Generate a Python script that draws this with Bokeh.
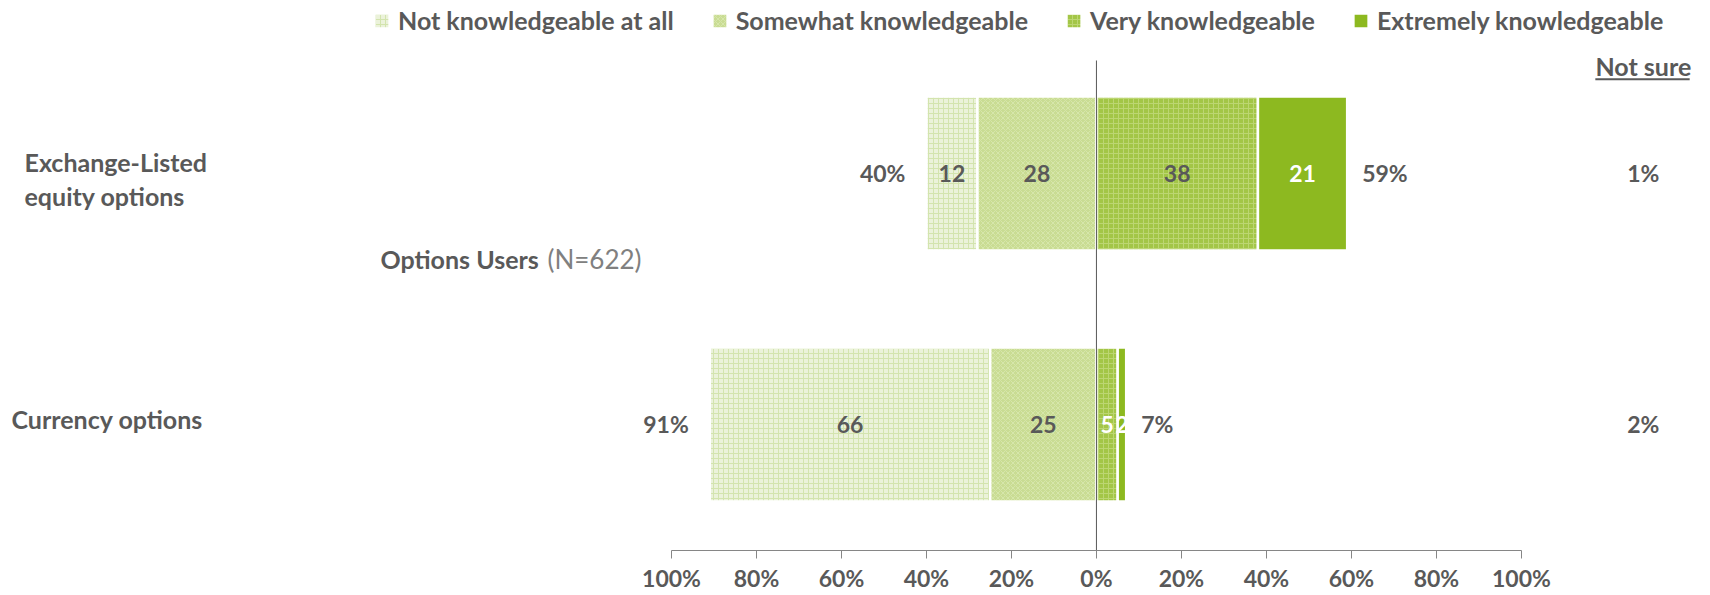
from bokeh.plotting import figure
from bokeh.models import (ColumnDataSource, Range1d, FixedTicker, Legend, LegendItem,
                          Label, BoxAnnotation)
from bokeh.core.properties import value
from bokeh.embed import file_html
from bokeh.resources import INLINE

# ---------------- data ----------------
categories = ["Exchange-Listed equity options", "Currency options"]
not_knowledgeable = [12, 66]
somewhat_knowledgeable = [28, 25]
very_knowledgeable = [38, 5]
extremely_knowledgeable = [21, 2]
not_sure = [1, 2]
series_names = ["Not knowledgeable at all", "Somewhat knowledgeable",
                "Very knowledgeable", "Extremely knowledgeable"]
tick_values = [-100, -80, -60, -40, -20, 0, 20, 40, 60, 80, 100]
tick_labels = ["100%", "80%", "60%", "40%", "20%", "0%", "20%", "40%", "60%", "80%", "100%"]

# ---------------- style ----------------
FONT = "Lato"
GRAY = "#595959"
LIGHT_GRAY = "#808080"
FS = "25px"      # words
FSN = "23px"     # numbers

ypos = [1, 0]  # category positions (top to bottom)
BAR_H = 0.614

# stacked positions
s_right = [0, 0]
s_left = [-s for s in somewhat_knowledgeable]
n_right = s_left
n_left = [-(a + b) for a, b in zip(not_knowledgeable, somewhat_knowledgeable)]
v_left = [0, 0]
v_right = list(very_knowledgeable)
e_left = v_right
e_right = [a + b for a, b in zip(very_knowledgeable, extremely_knowledgeable)]

p = figure(frame_width=1710, frame_height=550, output_backend="svg", toolbar_location=None,
           x_range=Range1d(-257.9, 144.5), y_range=Range1d(-0.502, 1.689),
           min_border_left=0, min_border_right=0, min_border_top=0, min_border_bottom=0,
           y_axis_location=None)
p.outline_line_color = None
p.grid.visible = False
p.background_fill_color = "white"

specs = [
    (n_left, n_right, "#ebf2da", "+", "#d3e4ae", 5),
    (s_left, s_right, "#c9dc93", "x", "#d6e6aa", 5),
    (v_left, v_right, "#a3c647", "+", "#bcd672", 5),
    (e_left, e_right, "#8db920", None, None, 5),
]
renderers = []
for (l, r, fc, hp, hc, hs) in specs:
    src = ColumnDataSource(dict(y=ypos, left=l, right=r))
    kw = dict(fill_color=fc, line_color="white", line_width=2.5)
    if hp:
        kw.update(hatch_pattern=hp, hatch_color=hc, hatch_scale=hs, hatch_weight=1)
    rr = p.hbar(y="y", left="left", right="right", height=BAR_H, source=src, **kw)
    renderers.append(rr)

# zero line
p.segment(x0=[0], y0=[-0.502], x1=[0], y1=[1.45], line_color=GRAY, line_width=1)

# in-bar value labels
lab_x, lab_y, lab_t, lab_c = [], [], [], []
seg_colors = [GRAY, GRAY, GRAY, "white"]
for i in range(2):
    vals = [not_knowledgeable[i], somewhat_knowledgeable[i], very_knowledgeable[i], extremely_knowledgeable[i]]
    lefts = [n_left[i], s_left[i], v_left[i], e_left[i]]
    rights = [n_right[i], s_right[i], v_right[i], e_right[i]]
    for k in range(4):
        lab_x.append((lefts[k] + rights[k]) / 2)
        lab_y.append(ypos[i])
        lab_t.append(str(vals[k]))
        c = seg_colors[k]
        if k == 2 and vals[k] < 10:
            c = "white"
        lab_c.append(c)
p.text(x="x", y="y", text="t", text_color="c",
       source=ColumnDataSource(dict(x=lab_x, y=lab_y, t=lab_t, c=lab_c)),
       text_font=value(FONT), text_font_style="bold", text_font_size=FSN,
       text_align="center", text_baseline="middle")

# totals
left_tot = [a + b for a, b in zip(not_knowledgeable, somewhat_knowledgeable)]
right_tot = [a + b for a, b in zip(very_knowledgeable, extremely_knowledgeable)]
p.text(x=[-t for t in left_tot], y=ypos, text=[f"{t}%" for t in left_tot], x_offset=-21,
       text_font=value(FONT), text_font_style="bold", text_font_size=FSN, text_color=GRAY,
       text_align="right", text_baseline="middle")
p.text(x=right_tot, y=ypos, text=[f"{t}%" for t in right_tot], x_offset=15,
       text_font=value(FONT), text_font_style="bold", text_font_size=FSN, text_color=GRAY,
       text_align="left", text_baseline="middle")
NOT_SURE_X = 128.7
p.text(x=[NOT_SURE_X] * 2, y=ypos, text=[f"{t}%" for t in not_sure],
       text_font=value(FONT), text_font_style="bold", text_font_size=FSN, text_color=GRAY,
       text_align="center", text_baseline="middle")

# "Not sure" header with underline
p.add_layout(Label(x=NOT_SURE_X, y=1.428, text="Not sure", text_font=FONT, text_font_style="bold",
                   text_font_size=FS, text_color=GRAY, text_align="center", text_baseline="middle"))
p.add_layout(BoxAnnotation(left=117.4, right=139.6, bottom=1.371, top=1.379,
                           fill_color=GRAY, fill_alpha=1, line_color=None))

# category labels
def lab(x, y, text, y_off=0, style="bold", color=GRAY, size=FS):
    p.add_layout(Label(x=x, y=y, x_units="screen", text=text, y_offset=y_off,
                       text_font=FONT, text_font_style=style, text_font_size=size,
                       text_color=color, text_align="left", text_baseline="middle"))

lab(24, ypos[0], "Exchange-Listed", y_off=11)
lab(24, ypos[0], "equity options", y_off=-23)
lab(11, ypos[1], categories[1], y_off=5)
lab(380, 0.661, "Options Users")
lab(547, 0.661, "(N=622)", style="normal", color=LIGHT_GRAY, size="26px")

# axis
ax = p.xaxis[0]
ax.ticker = FixedTicker(ticks=tick_values)
ax.major_label_overrides = {v: t for v, t in zip(tick_values, tick_labels)}
ax.bounds = (-100, 100)
ax.axis_line_color = "#868686"
ax.major_tick_line_color = "#868686"
ax.major_tick_in = 0
ax.major_tick_out = 8
ax.minor_tick_line_color = None
ax.major_label_text_font = FONT
ax.major_label_text_font_style = "bold"
ax.major_label_text_font_size = FSN
ax.major_label_text_color = GRAY
ax.major_label_standoff = 5

# legend
items = [LegendItem(label=n, renderers=[r]) for n, r in zip(series_names, renderers)]
leg = Legend(items=items, orientation="horizontal", location=(372, 515),
             glyph_width=19, glyph_height=19, label_standoff=7, spacing=36,
             padding=0, margin=0, border_line_color=None, background_fill_alpha=0,
             label_text_font=FONT, label_text_font_style="bold", label_text_font_size=FS,
             label_text_color=GRAY)
p.add_layout(leg)

open("out.html", "w").write(file_html(p, INLINE))
